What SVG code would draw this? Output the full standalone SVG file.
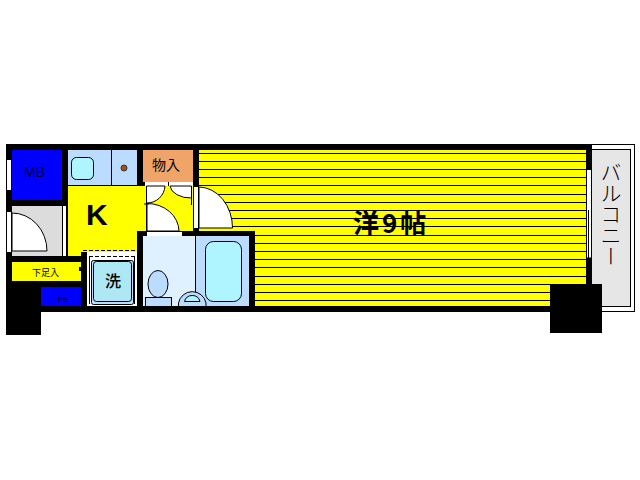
<svg xmlns="http://www.w3.org/2000/svg" width="640" height="480" viewBox="0 0 640 480">
<defs><style>
.jp{font-family:"Noto Sans CJK JP","Noto Sans",sans-serif;fill:#000}
.ln{fill:none;stroke:#000;stroke-width:1}
.dr{fill:#fff;stroke:#000;stroke-width:1}
.st{stroke:#000;stroke-width:1;fill:none}
</style></defs>
<rect width="640" height="480" fill="#fff"/>
<g id="balcony">
<rect x="590.500" y="144.500" width="44" height="167" fill="#fff" stroke="#000"/>
<rect x="590.500" y="149.500" width="40" height="157" fill="#e6e6e6" stroke="#000"/>
<text class="jp" x="611" y="162" font-size="21" font-weight="300" style="writing-mode:vertical-rl">バルコニー</text>
</g>
<g id="walls">
<rect x="6" y="144" width="586" height="168" fill="#000"/>
<rect x="6" y="312" width="35" height="23" fill="#000"/>
<rect x="550" y="284" width="52" height="49" fill="#000"/>
</g>
<g id="room">
<rect x="199" y="150" width="387" height="156" fill="#ff0"/>
<rect x="550" y="284" width="36" height="22" fill="#000"/>
<path class="st" d="M199 153.500H586M199 161.500H586M199 169.500H586M199 177.500H586M199 185.500H586M199 194.500H586M199 202.500H586M199 210.500H586M199 218.500H586M199 226.500H586M199 235.500H586M199 243.500H586M199 251.500H586M199 259.500H586M199 267.500H586M199 276.500H586M199 284.500H550M199 292.500H550M199 300.500H550"/>
<rect x="587" y="170" width="4" height="88" fill="#fff"/>
<path class="ln" d="M588.500 210V258M587 258H591"/>
<path d="M199 187A34 41 0 0 1 232.500 228H199Z" class="dr"/>
<rect x="194" y="187" width="4" height="41" fill="#fff"/>
<text class="jp" x="353" y="233" font-size="26" font-weight="700" letter-spacing="3">洋9帖</text>
</g>
<g id="mb">
<rect x="12" y="150" width="50" height="50" fill="#00f"/>
<text x="24" y="177" font-family="Liberation Sans,sans-serif" font-size="14" fill="#000033">MB</text>
</g>
<g id="closet">
<rect x="12" y="206" width="50" height="50" fill="#dcdcdc"/>
<rect x="63" y="206" width="3" height="50" fill="#fff"/>
<path class="dr" d="M12 213A35 38 0 0 1 47 251H12Z"/>
</g>
<g id="windows-left">
<rect x="7" y="160" width="4" height="30" fill="#fff"/>
<rect x="7" y="212" width="4" height="40" fill="#fff"/>
</g>
<g id="kitchen-counter">
<rect x="68" y="150" width="69" height="35" fill="#bbdcff"/>
<path class="ln" d="M111.500 150V185"/>
<rect x="71.500" y="157.500" width="22" height="22" rx="5" fill="#aef5ff" stroke="#000"/>
<circle cx="124" cy="168" r="3" fill="#a0501e" stroke="#333" stroke-width="1"/>
</g>
<g id="kitchen">
<rect x="68" y="186" width="13" height="70" fill="#ff0"/>
<rect x="81" y="186" width="56" height="66" fill="#ff0"/>
<path d="M137 186H145V232H137Z" fill="#ff0"/>
<text x="86" y="225" font-family="Liberation Sans,sans-serif" font-size="30" font-weight="700">K</text>
</g>
<g id="entry">
<rect x="12" y="262" width="69" height="19" fill="#ff0"/>
<rect x="79" y="267" width="2" height="4" fill="#000"/>
<text class="jp" x="32" y="276" font-size="9">下足入</text>
</g>
<g id="ps">
<rect x="41" y="287" width="40" height="19" fill="#00f"/>
<text x="58" y="302" font-family="Liberation Sans,sans-serif" font-size="8" font-weight="700" fill="#000033">PS</text>
</g>
<g id="washer">
<rect x="87" y="252" width="50" height="54" fill="#fff"/>
<path class="ln" d="M83 250.500H137M89 256.500H135" stroke-dasharray="4 2"/>
<path class="ln" d="M89.500 257V304M134.500 257V304"/>
<rect x="91.500" y="260.500" width="42" height="44" rx="2" fill="#bbdcff" stroke="#000"/>
<rect x="93.500" y="261.500" width="38" height="40" rx="3" fill="#aee8f5" stroke="#000"/>
<text class="jp" x="105" y="287" font-size="16" font-weight="500">洗</text>
</g>
<g id="storage">
<rect x="143" y="150" width="50" height="32" fill="#f0a468"/>
<text class="jp" x="152" y="170" font-size="14">物入</text>
</g>
<g id="hall">
<rect x="145" y="186" width="48" height="45" fill="#ff0"/>
<rect x="145" y="182" width="48" height="4" fill="#fff"/>
<path class="ln" d="M168.500 182V186"/>
<path class="dr" d="M146.500 186H165A18 18 0 0 1 146.500 203Z"/>
<path class="dr" d="M191.500 186H170A21 13 0 0 0 191.500 198Z"/>
<path class="ln" d="M191.500 186V205"/>
<path class="dr" d="M147 203.500A32 28 0 0 1 179 231H147Z"/>
<path class="ln" d="M146.500 186V232M144 204H149"/>
</g>
<g id="bath">
<rect x="137" y="231" width="118" height="81" fill="#000"/>
<rect x="143" y="236" width="52" height="70" fill="#dff0ff"/>
<rect x="196" y="236" width="53" height="70" fill="#bbdcff"/>
<rect x="147" y="232" width="35" height="4" fill="#fff"/>
<path class="ln" d="M195.500 236V292"/>
<rect x="205.500" y="241.500" width="36" height="60" rx="8" fill="#aef5ff" stroke="#000"/>
<ellipse cx="158" cy="284" rx="10" ry="13.500" fill="#bbdcff" stroke="#000"/>
<rect x="145.500" y="297.500" width="26" height="9" fill="#bbdcff" stroke="#000"/>
<path d="M178.500 306V303A14 14 0 0 1 206 303V306" fill="#bbdcff" stroke="#000"/>
<path d="M184.500 301.500A8 8 0 0 1 200 301.500Z" fill="#aef5ff" stroke="#000"/>
</g>
</svg>
